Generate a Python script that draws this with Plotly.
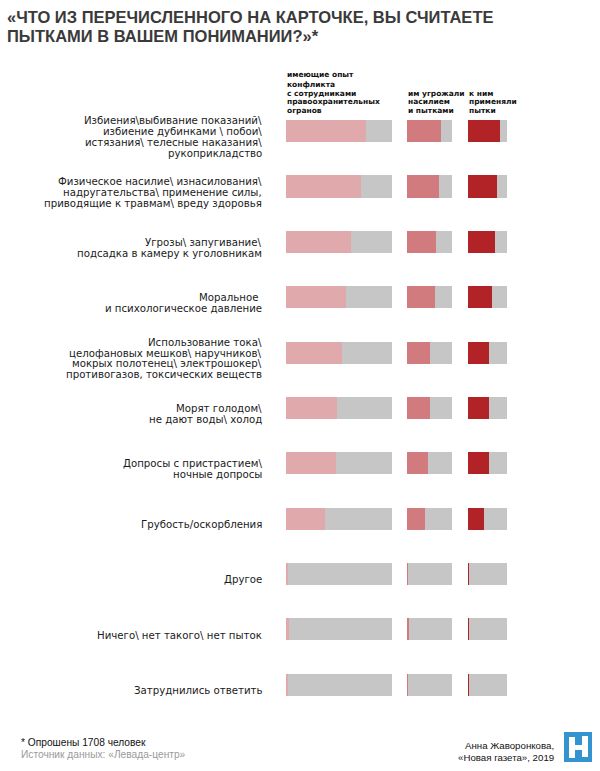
import plotly.graph_objects as go

W, H = 600, 771

# ---------------- data ----------------
label_lines = [
    ["Избиения\\выбивание показаний\\", "избиение дубинками \\ побои\\", "истязания\\ телесные наказания\\", "рукоприкладство"],
    ["Физическое насилие\\ изнасилования\\", "надругательства\\ применение силы,", "приводящие к травмам\\ вреду здоровья"],
    ["Угрозы\\ запугивание\\", "подсадка в камеру к уголовникам"],
    ["Моральное ", "и психологическое давление"],
    ["Использование тока\\", "целофановых мешков\\ наручников\\", "мокрых полотенец\\ электрошокер\\", "противогазов, токсических веществ"],
    ["Морят голодом\\", "не дают воды\\ холод"],
    ["Допросы с пристрастием\\", "ночные допросы"],
    ["Грубость/оскорбления"],
    ["Другое"],
    ["Ничего\\ нет такого\\ нет пыток"],
    ["Затруднились ответить"],
]
categories = [" ".join(l) for l in label_lines]

conflict = [75, 71, 61, 57, 53, 48, 47, 37, 2, 3, 2]   # имеющие опыт конфликта
threatened = [76, 71, 65, 62, 51, 51, 47, 40, 3, 4, 3]  # им угрожали
tortured = [81, 74, 68, 62, 55, 54, 53, 42, 2, 3, 2]    # к ним применяли пытки

headers = [
    ["имеющие опыт", "конфликта", "с сотрудниками", "правоохранительных", "огранов"],
    ["им угрожали", "насилием", "и пытками"],
    ["к ним", "применяли", "пытки"],
]

title_lines = ["«ЧТО ИЗ ПЕРЕЧИСЛЕННОГО НА КАРТОЧКЕ, ВЫ СЧИТАЕТЕ", "ПЫТКАМИ В ВАШЕМ ПОНИМАНИИ?»*"]
note_text = "* Опрошены 1708 человек"
source_text = "Источник данных: «Левада-центр»"
author_lines = ["Анна Жаворонкова,", "«Новая газета», 2019"]

# ---------------- styles ----------------
colors = ["#e0a9ac", "#d27b7e", "#b12327"]
gray = "#c6c6c6"
panels_px = [(286, 392), (407, 452), (468, 507)]

def px_x(x):
    return x / W

def px_y(y):
    return 1 - y / H

fig = go.Figure()
series = [conflict, threatened, tortured]
for k, vals in enumerate(series):
    xa = "x" if k == 0 else f"x{k+1}"
    fig.add_trace(go.Bar(y=categories, x=vals, orientation="h", xaxis=xa, yaxis="y",
                         marker=dict(color=colors[k], line=dict(width=0)), width=0.4,
                         showlegend=False, hoverinfo="skip"))
    fig.add_trace(go.Bar(y=categories, x=[100 - v for v in vals], orientation="h", xaxis=xa, yaxis="y",
                         marker=dict(color=gray, line=dict(width=0)), width=0.4,
                         showlegend=False, hoverinfo="skip"))

top_px, bot_px = 103.3, 712.7
layout = dict(
    width=W, height=H, margin=dict(l=0, r=0, t=0, b=0),
    paper_bgcolor="white", plot_bgcolor="white",
    barmode="stack", bargap=0,
    yaxis=dict(domain=[px_y(bot_px), px_y(top_px)], categoryorder="array", categoryarray=categories,
               autorange="reversed", showticklabels=False, showgrid=False, zeroline=False, showline=False,
               ticks=""),
)
for k, (a, b) in enumerate(panels_px):
    key = "xaxis" if k == 0 else f"xaxis{k+1}"
    layout[key] = dict(domain=[px_x(a), px_x(b)], range=[0, 100], showticklabels=False, showgrid=False,
                       zeroline=False, showline=False, ticks="", fixedrange=True)
    if k > 0:
        layout[key]["anchor"] = "y"
fig.update_layout(**layout)

ann = []
label_font = dict(family="DejaVu Sans", size=10.2, color="#1a1a1a")
LS = 10.8
for cat, lines in zip(categories, label_lines):
    n = len(lines)
    for j, line in enumerate(lines):
        ann.append(dict(xref="paper", yref="y", x=px_x(263), y=cat, text=line, showarrow=False,
                        xanchor="right", yanchor="middle", font=label_font, borderpad=0,
                        yshift=-((j - (n - 1) / 2) * LS + 5.5)))

# column headers (bottom-aligned)
hdr_font = dict(family="DejaVu Sans", size=7.5, color="#111111", weight="bold")
for k, lines in enumerate(headers):
    n = len(lines)
    for j, line in enumerate(lines):
        y = 111 - (n - 1 - j) * 9
        ann.append(dict(xref="paper", yref="paper", x=px_x(panels_px[k][0]), y=px_y(y), text=line,
                        showarrow=False, xanchor="left", yanchor="middle", font=hdr_font, borderpad=0))

# title
for j, line in enumerate(title_lines):
    ann.append(dict(xref="paper", yref="paper", x=px_x(5), y=px_y(17 + j * 19), text=line, showarrow=False,
                    xanchor="left", yanchor="middle",
                    font=dict(family="Liberation Sans", size=16.5, color="#3a3a3a", weight="bold")))

# footer
foot_font = 10.2
ann.append(dict(xref="paper", yref="paper", x=px_x(19), y=px_y(742), text=note_text, showarrow=False,
                xanchor="left", yanchor="middle", font=dict(family="Liberation Sans", size=foot_font, color="#111111")))
ann.append(dict(xref="paper", yref="paper", x=px_x(19), y=px_y(754), text=source_text, showarrow=False,
                xanchor="left", yanchor="middle", font=dict(family="Liberation Sans", size=foot_font, color="#9a9a9a")))
for j, line in enumerate(author_lines):
    ann.append(dict(xref="paper", yref="paper", x=px_x(556), y=px_y(745 + j * 12), text=line, showarrow=False,
                    xanchor="right", yanchor="middle", font=dict(family="Liberation Sans", size=9.7, color="#111111")))
fig.update_layout(annotations=ann)

# logo
def rect(x0, y0, x1, y1, color):
    return dict(type="rect", xref="paper", yref="paper", x0=px_x(x0), x1=px_x(x1), y0=px_y(y1), y1=px_y(y0),
                fillcolor=color, line=dict(width=0), layer="above")

shapes = [
    rect(564, 732, 592, 762, "#3394d0"),
    rect(569, 737, 575, 758, "white"),
    rect(575, 745, 582, 750, "white"),
    rect(582, 736, 588, 757, "white"),
]
fig.update_layout(shapes=shapes)

fig.write_html("out.html", config={"displayModeBar": False},
               post_script="document.body.style.margin='0';document.body.style.overflow='hidden';")
